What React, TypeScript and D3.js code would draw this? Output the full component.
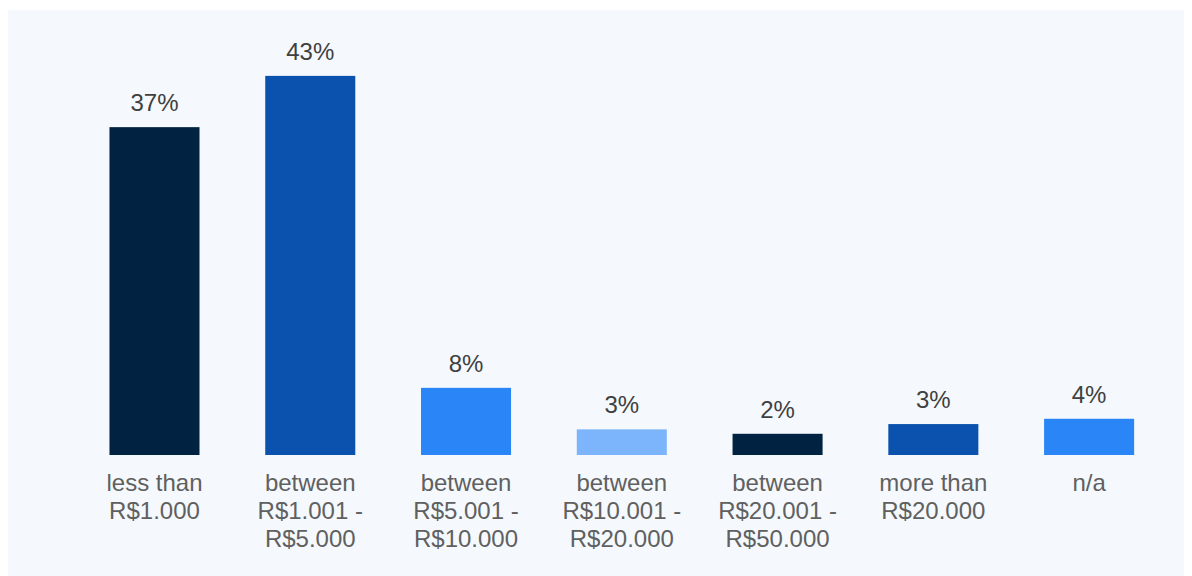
import React from "react";
import * as d3 from "d3";

const categories: string[][] = [
  ["less than", "R$1.000"],
  ["between", "R$1.001 -", "R$5.000"],
  ["between", "R$5.001 -", "R$10.000"],
  ["between", "R$10.001 -", "R$20.000"],
  ["between", "R$20.001 -", "R$50.000"],
  ["more than", "R$20.000"],
  ["n/a"],
];
const values: number[] = [37.1, 42.9, 7.6, 2.9, 2.4, 3.5, 4.1];
const valueLabels: string[] = ["37%", "43%", "8%", "3%", "2%", "3%", "4%"];
const colors: string[] = ["#012341", "#0a52ad", "#2a86f6", "#7cb5fb", "#012341", "#0a52ad", "#2a86f6"];

const W = 1176;
const H = 570;

export default function App() {
  const x = d3
    .scaleBand<number>()
    .domain(d3.range(values.length))
    .range([68.6, 1159])
    .paddingInner(0.422)
    .paddingOuter(0.211);
  const y = d3.scaleLinear().domain([0, 43]).range([447, 67]);
  const font = "'Liberation Sans', Arial, sans-serif";
  return (
    <svg width={W} height={H} style={{ display: "block" }}>
      <rect x={0} y={2} width={W} height={H - 2} fill="#f5f9fd" />
      {values.map((v, i) => {
        const bx = x(i)!;
        const cx = bx + x.bandwidth() / 2;
        return (
          <g key={i}>
            <rect x={bx} y={y(v)} width={x.bandwidth()} height={y(0) - y(v)} fill={colors[i]} />
            <text
              x={cx}
              y={y(v) - 16}
              textAnchor="middle"
              fontFamily={font}
              fontSize={24}
              fill="#404040"
            >
              {valueLabels[i]}
            </text>
            <text textAnchor="middle" fontFamily={font} fontSize={24} fill="#606060">
              {categories[i].map((line, j) => (
                <tspan key={j} x={cx} y={y(0) + 36 + j * 28}>
                  {line}
                </tspan>
              ))}
            </text>
          </g>
        );
      })}
    </svg>
  );
}
